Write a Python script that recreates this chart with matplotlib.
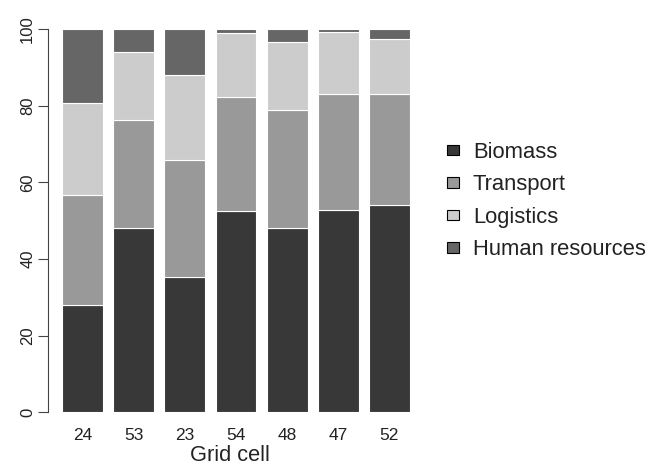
import numpy as np
import matplotlib

matplotlib.use("Agg")
import matplotlib.pyplot as plt
from matplotlib.patches import Patch

plt.rcParams["font.family"] = ["Liberation Sans", "DejaVu Sans"]

# values (percent of total cost per grid cell)
grid_cells = ["24", "53", "23", "54", "48", "47", "52"]
biomass = [27.9, 48.0, 35.4, 52.5, 48.0, 52.8, 54.1]
transport = [28.8, 28.3, 30.3, 29.7, 30.9, 30.2, 28.9]
logistics = [24.1, 17.8, 22.3, 16.7, 17.8, 16.2, 14.4]
human_resources = [19.2, 5.9, 12.0, 1.1, 3.3, 0.8, 2.6]
series_names = ["Biomass", "Transport", "Logistics", "Human resources"]
y_ticks = [0, 20, 40, 60, 80, 100]

colors = ["#383838", "#999999", "#cccccc", "#666666"]
text_col = "#222222"

fig = plt.figure(figsize=(6.64, 4.73), dpi=100)
W, H = 664, 473
left_px, right_px = 47.7, 412.5
top_px, bottom_px = 13.7, 427.6
ax = fig.add_axes([left_px / W, 1 - bottom_px / H,
                   (right_px - left_px) / W, (bottom_px - top_px) / H])

x = np.arange(len(grid_cells))
bottom = np.zeros(len(grid_cells))
for vals, col in zip([biomass, transport, logistics, human_resources], colors):
    ax.bar(x, vals, width=0.8, bottom=bottom, color=col,
           edgecolor="white", linewidth=0.8)
    bottom += np.array(vals)

ax.set_xlim(-0.68, 6.45)
ax.set_ylim(-4, 104)

for s in ["top", "right", "bottom"]:
    ax.spines[s].set_visible(False)
ax.spines["left"].set_bounds(0, 100)
ax.spines["left"].set_color("#444444")
ax.spines["left"].set_linewidth(0.8)

ax.set_yticks(y_ticks)
ax.set_yticklabels([str(t) for t in y_ticks], rotation=90, va="center",
                   fontsize=12, color=text_col)
ax.tick_params(axis="y", length=7.5, width=0.8, color="#444444", pad=1.5)

ax.set_xticks(x)
ax.set_xticklabels(grid_cells, fontsize=12.5, color=text_col)
ax.tick_params(axis="x", length=0, pad=0)
ax.set_xlabel("Grid cell", fontsize=15.7, color=text_col, labelpad=2)

handles = [Patch(facecolor=c, edgecolor="black", linewidth=0.8) for c in colors]
fig.legend(handles, series_names, loc="center left",
           bbox_to_anchor=(427 / W, 1 - 201 / H), frameon=False,
           fontsize=15.8, handlelength=0.55, handleheight=0.37,
           handletextpad=0.64, labelspacing=0.52)
for t in fig.legends[0].get_texts():
    t.set_color(text_col)

fig.savefig("out.png", dpi=100)
